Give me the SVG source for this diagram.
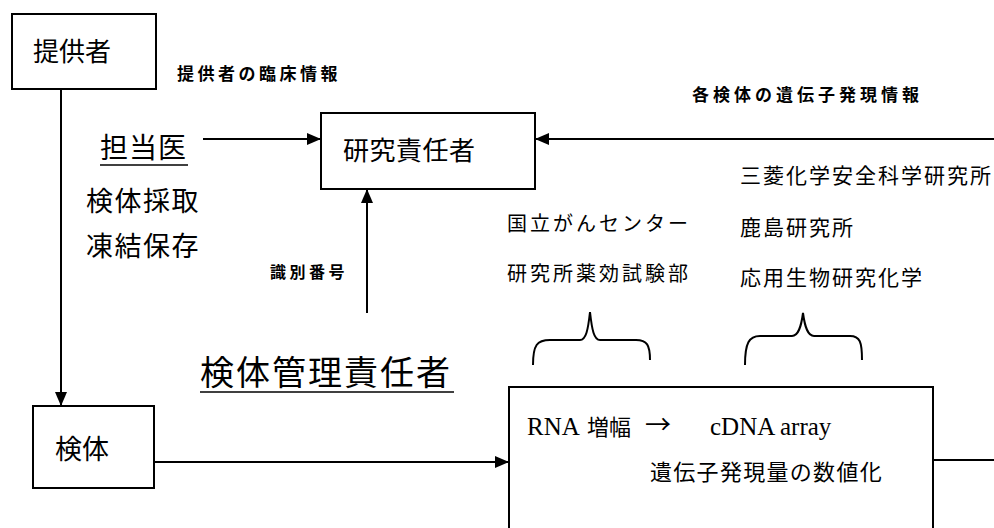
<svg xmlns="http://www.w3.org/2000/svg" width="994" height="528" viewBox="0 0 994 528">
<style>
.box{fill:#fff;stroke:#000;stroke-width:2}
.ln{stroke:#000;stroke-width:2;fill:none}
.j{font-family:"Noto Sans CJK JP","Noto Sans CJK SC",sans-serif;fill:#000}
.s{font-family:"Liberation Serif",serif;fill:#000}
.lab{font-weight:bold}
</style>
<defs>
<marker id="ah" markerWidth="14" markerHeight="12" refX="13" refY="6" orient="auto" markerUnits="userSpaceOnUse">
<path d="M0,0 L14,6 L0,12 Z" fill="#000"/>
</marker>
</defs>
<rect width="994" height="528" fill="#fff"/>

<g id="connectors">
<line class="ln" x1="61" y1="89" x2="61" y2="405" marker-end="url(#ah)"/>
<line class="ln" x1="203" y1="139" x2="320" y2="139" marker-end="url(#ah)"/>
<line class="ln" x1="367" y1="313" x2="367" y2="190" marker-end="url(#ah)"/>
<line class="ln" x1="994" y1="139" x2="536" y2="139" marker-end="url(#ah)"/>
<line class="ln" x1="154" y1="462" x2="508" y2="462" marker-end="url(#ah)"/>
<line class="ln" x1="933" y1="460" x2="994" y2="460"/>
<path class="ln" stroke-width="1.6" d="M533,365 C533,345 537,340 550,340 L580,340 C586,340 588,330 590,312 C592,330 594,340 600,340 L636,340 C647,340 650,345 650,360"/>
<path class="ln" stroke-width="1.6" d="M745,365 C745,343 749,336 760,336 L792,336 C798,336 801,328 803,313 C805,328 808,336 814,336 L850,336 C860,336 862,342 862,360"/>
</g>

<g id="teikyosha">
<rect class="box" x="12" y="14" width="144" height="75"/>
<text class="j" x="33" y="61" font-size="26">提供者</text>
</g>

<g id="kenkyu-sekininsha">
<rect class="box" x="321" y="113" width="214" height="76"/>
<text class="j" x="343" y="160" font-size="26" letter-spacing="0.5">研究責任者</text>
</g>

<g id="kentai">
<rect class="box" x="33" y="406" width="121" height="82"/>
<text class="j" x="55" y="459" font-size="27">検体</text>
</g>

<g id="analysis">
<rect class="box" x="509" y="387" width="424" height="160"/>
<text class="s" x="527" y="435" font-size="25">RNA</text>
<text class="j" x="587" y="435" font-size="22">増幅</text>
<text class="j" x="645" y="434" font-size="26">→</text>
<text class="s" x="710" y="435" font-size="25">cDNA</text>
<text class="s" x="780" y="435" font-size="25">array</text>
<text class="j" x="650" y="480" font-size="22" letter-spacing="1.3">遺伝子発現量の数値化</text>
</g>

<g id="tantoui">
<text class="j" x="100" y="158" font-size="28" letter-spacing="1">担当医</text>
<line x1="100" y1="165" x2="188" y2="165" stroke="#000" stroke-width="1.5"/>
<text class="j" x="86" y="211" font-size="27" letter-spacing="1.5">検体採取</text>
<text class="j" x="86" y="256" font-size="27" letter-spacing="1.5">凍結保存</text>
</g>

<g id="kentai-kanri">
<text class="j" x="200" y="385" font-size="34" letter-spacing="2">検体管理責任者</text>
<line x1="200" y1="392" x2="454" y2="392" stroke="#000" stroke-width="1.5"/>
</g>

<g id="ncc">
<text class="j" x="507" y="231" font-size="20" letter-spacing="3">国立がんセンター</text>
<text class="j" x="507" y="281" font-size="20" letter-spacing="3">研究所薬効試験部</text>
</g>

<g id="mitsubishi">
<text class="j" x="740" y="183" font-size="21" letter-spacing="2">三菱化学安全科学研究所</text>
<text class="j" x="740" y="235" font-size="21" letter-spacing="2">鹿島研究所</text>
<text class="j" x="740" y="285" font-size="21" letter-spacing="2">応用生物研究化学</text>
</g>

<g id="labels">
<text class="j lab" x="177" y="80" font-size="17" letter-spacing="3.5">提供者の臨床情報</text>
<text class="j lab" x="692" y="101" font-size="17" letter-spacing="4">各検体の遺伝子発現情報</text>
<text class="j lab" x="270" y="278" font-size="16" letter-spacing="3.5">識別番号</text>
</g>
</svg>
